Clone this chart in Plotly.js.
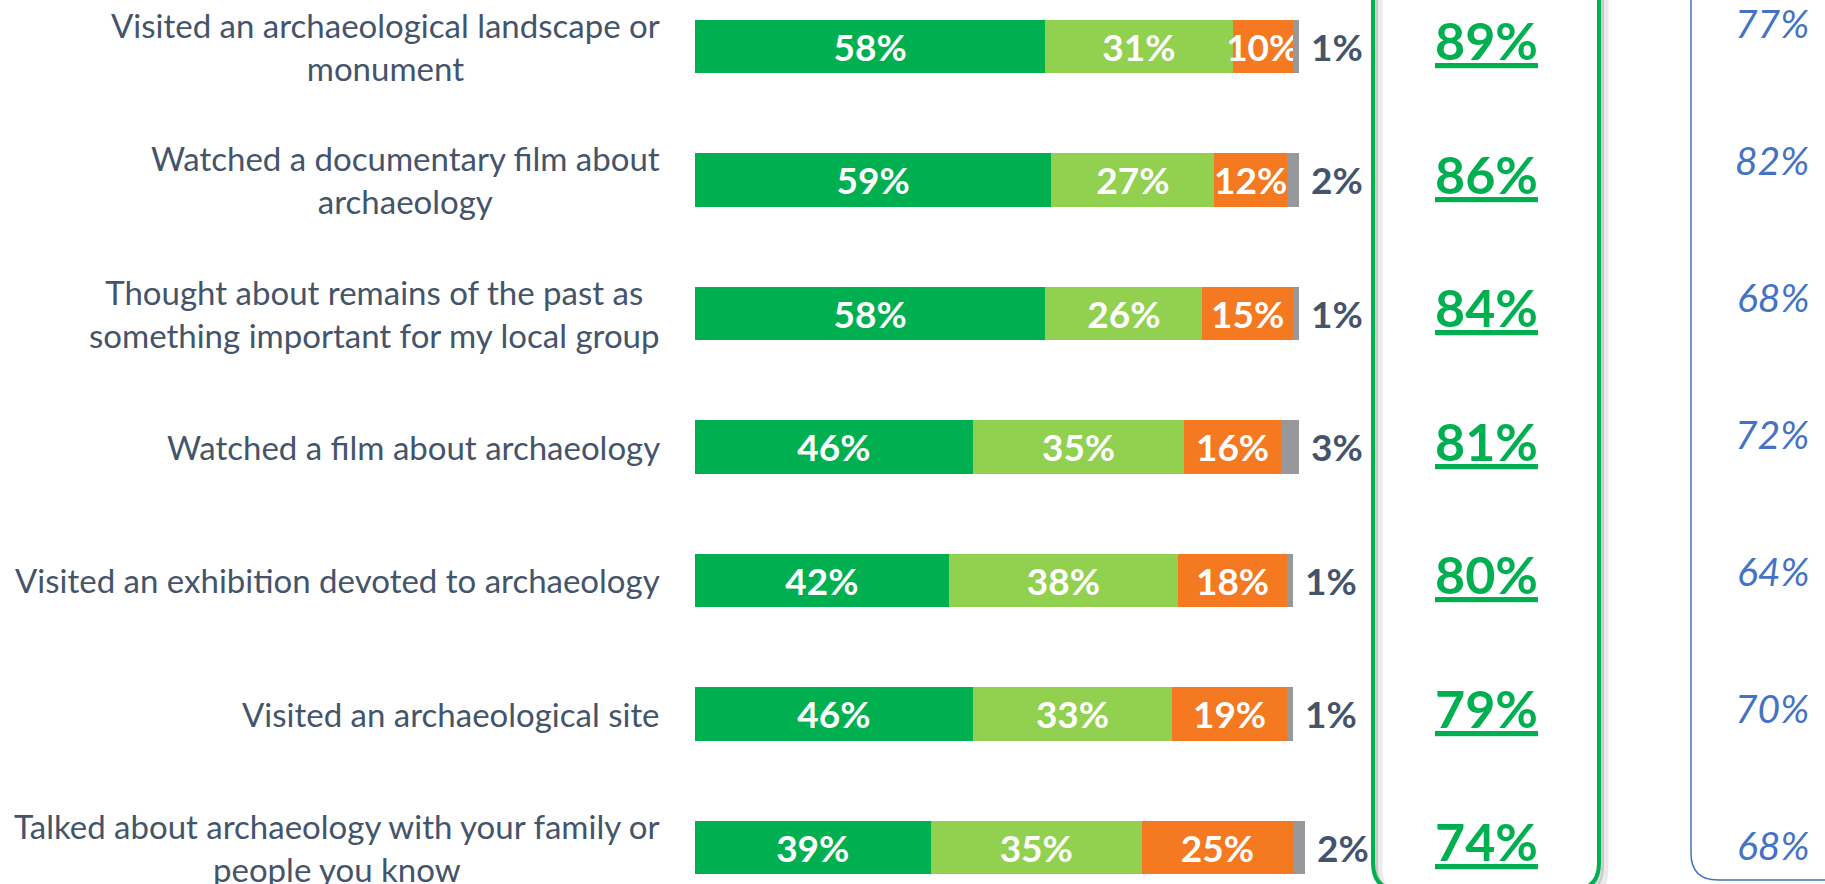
<!DOCTYPE html>
<html><head><meta charset="utf-8">
<script src="https://cdn.plot.ly/plotly-3.0.1.min.js"></script>
<style>html,body{margin:0;padding:0;background:#fff;overflow:hidden}#chart{width:1825px;height:884px}</style>
</head><body><div id="chart"></div>
<script>
const categories = [
  "Visited an archaeological landscape or<br>monument",
  "Watched a documentary film about<br>archaeology",
  "Thought about remains of the past as<br>something important for my local group",
  "Watched a film about archaeology",
  "Visited an exhibition devoted to archaeology",
  "Visited an archaeological site",
  "Talked about archaeology with your family or<br>people you know"
];
const seriesMany = [58, 59, 58, 46, 42, 46, 39];
const seriesFew = [31, 27, 26, 35, 38, 33, 35];
const seriesNever = [10, 12, 15, 16, 18, 19, 25];
const seriesNoAnswer = [1, 2, 1, 3, 1, 1, 2];
const totalYes = [89, 86, 84, 81, 80, 79, 74];
const comparison = [77, 82, 68, 72, 64, 70, 68];

const W = 1825, H = 884;
const FONT = "Lato, 'Open Sans', sans-serif";
const SLATE = "#44546A";
const px = v => v / W;
const py = v => 1 - v / H;

function segTrace(vals, color, name, outside) {
  return {
    type: "bar", orientation: "h", name: name,
    y: categories, x: vals,
    marker: {color: color, line: {width: 0}},
    width: 0.4,
    text: vals.map(v => (outside ? "\u00a0" : "") + v + "%"),
    texttemplate: "<b>%{text}</b>",
    textposition: outside ? "outside" : "inside",
    insidetextanchor: "middle",
    textangle: 0,
    constraintext: "none",
    cliponaxis: false,
    textfont: {family: FONT, size: 37, color: outside ? SLATE : "#ffffff"},
    hoverinfo: "skip"
  };
}

const traces = [
  segTrace(seriesMany, "#00B050", "Many times", false),
  segTrace(seriesFew, "#92D050", "A few times", false),
  segTrace(seriesNever, "#F47920", "Never", false),
  segTrace(seriesNoAnswer, "#97989B", "No answer", true),
  {type: "scatter", x: [null], y: [null], yaxis: "y2", showlegend: false, hoverinfo: "skip", mode: "markers"}
];

function roundedOpen(l, r, top, bottom, rad) {
  return "M" + px(l) + "," + py(top) +
    " L" + px(l) + "," + py(bottom - rad) +
    " Q" + px(l) + "," + py(bottom) + " " + px(l + rad) + "," + py(bottom) +
    " L" + px(r - rad) + "," + py(bottom) +
    " Q" + px(r) + "," + py(bottom) + " " + px(r) + "," + py(bottom - rad) +
    " L" + px(r) + "," + py(top);
}
function blueBox(l, r, top, bottom, rad) {
  return "M" + px(l) + "," + py(top) +
    " L" + px(l) + "," + py(bottom - rad) +
    " Q" + px(l) + "," + py(bottom) + " " + px(l + rad) + "," + py(bottom) +
    " L" + px(r) + "," + py(bottom);
}

const shapes = [
  {type: "path", xref: "paper", yref: "paper", layer: "below", path: roundedOpen(1379, 1605, -40, 896, 27), line: {color: "rgba(0,0,0,0.08)", width: 7}},
  {type: "path", xref: "paper", yref: "paper", layer: "below", path: roundedOpen(1376, 1602, -40, 893, 27), line: {color: "rgba(0,0,0,0.14)", width: 4}},
  {type: "path", xref: "paper", yref: "paper", path: roundedOpen(1373, 1599, -40, 890, 27), line: {color: "#00B050", width: 4}},
  {type: "path", xref: "paper", yref: "paper", path: blueBox(1691, 1860, -40, 880, 27), line: {color: "#4472C4", width: 1.5}}
];

const annotations = [];
categories.forEach((c, i) => {
  annotations.push({
    xref: "paper", yref: "y", x: px(662), y: c, xanchor: "right", yanchor: "middle",
    text: c, align: "center", showarrow: false,
    font: {family: FONT, size: 33, color: SLATE}
  });
  annotations.push({
    xref: "paper", yref: "y", x: px(1486), y: c, xanchor: "center", yanchor: "middle", yshift: 6,
    text: "<b><u>" + totalYes[i] + "%</u></b>", showarrow: false,
    font: {family: FONT, size: 52, color: "#00B050"}
  });
  annotations.push({
    xref: "paper", yref: "y2", x: px(1811), y: i, xanchor: "right", yanchor: "middle",
    text: "<i>" + comparison[i] + "%</i>", showarrow: false,
    font: {family: FONT, size: 39, color: "#4472C4"}
  });
});

const layout = {
  width: W, height: H,
  margin: {l: 0, r: 0, t: 0, b: 0, pad: 0},
  paper_bgcolor: "#ffffff", plot_bgcolor: "rgba(0,0,0,0)",
  barmode: "stack", showlegend: false,
  xaxis: {domain: [695 / W, (695 + 6.04 * 105) / W], range: [0, 105], visible: false, fixedrange: true},
  yaxis: {type: "category", range: [6.274, -0.348], visible: false, fixedrange: true},
  yaxis2: {overlaying: "y", range: [6.2847, -0.1679], visible: false, fixedrange: true},
  shapes: shapes,
  annotations: annotations,
  font: {family: FONT}
};

Plotly.newPlot("chart", traces, layout, {displayModeBar: false, staticPlot: true});
</script>
</body></html>
